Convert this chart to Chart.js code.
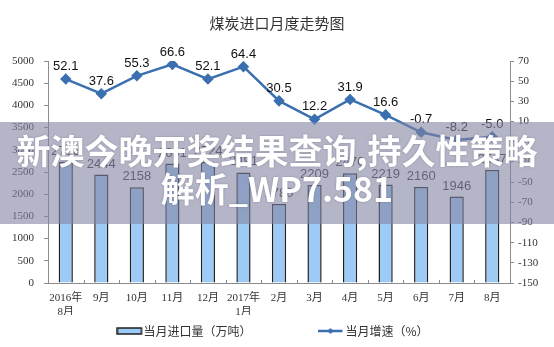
<!DOCTYPE html>
<html>
<head>
<meta charset="utf-8">
<script src="https://cdn.jsdelivr.net/npm/chart.js@4/dist/chart.umd.min.js"></script>
<style>
  html, body { margin: 0; padding: 0; background: #fff; }
  #wrap { position: relative; width: 554px; height: 347px; }
  #banner {
    position: absolute; left: 0; top: 122px; width: 554px; height: 102px;
    background: rgba(131, 131, 163, 0.6);
    color: #fff; font-family: "Noto Sans CJK SC", sans-serif; font-weight: 700;
    font-size: 34px; line-height: 38px; text-align: center;
    padding-top: 9px; box-sizing: border-box;
    text-shadow: 0 0 2px rgba(80, 80, 100, 0.5);
  }
</style>
</head>
<body>
<div id="wrap">
  <canvas id="chart" width="554" height="347"></canvas>
  <div id="banner">新澳今晚开奖结果查询,持久性策略<br>解析_WP7.581</div>
</div>
<script>
const monthLabels = [
  ['2016年', '8月'], '9月', '10月', '11月', '12月', ['2017年', '1月'],
  '2月', '3月', '4月', '5月', '6月', '7月', '8月',
];
const importVolume = [2733, 2444, 2158, 2691, 2724, 2491, 1780, 2209, 2470, 2219, 2160, 1946, 2547];
const growthRate = [52.1, 37.6, 55.3, 66.6, 52.1, 64.4, 30.5, 12.2, 31.9, 16.6, -0.7, -8.2, -5.0];

const tickFont = { family: '"Liberation Serif", "Noto Sans CJK SC", serif', size: 11, lineHeight: 1.3 };
const labelFont = '13px "Liberation Sans", Arial, sans-serif';
const lineColor = '#3a6fb0';
const barFill = '#9dcbf5';

// legend symbols: a framed bar swatch and a line with a diamond
const barSwatch = (() => {
  const c = document.createElement('canvas');
  c.width = 30; c.height = 8;
  const g = c.getContext('2d');
  g.fillStyle = barFill;
  g.fillRect(1, 1, 24, 6);
  g.strokeStyle = '#1f1f1f';
  g.lineWidth = 1.5;
  g.strokeRect(1, 1, 24, 6);
  return c;
})();

const lineSwatch = (() => {
  const c = document.createElement('canvas');
  c.width = 30; c.height = 8;
  const g = c.getContext('2d');
  g.strokeStyle = lineColor;
  g.lineWidth = 2.5;
  g.beginPath(); g.moveTo(0, 4); g.lineTo(24, 4); g.stroke();
  g.fillStyle = lineColor;
  g.beginPath(); g.moveTo(12, 1); g.lineTo(15, 4); g.lineTo(12, 7); g.lineTo(9, 4); g.closePath(); g.fill();
  return c;
})();

const valueLabels = {
  id: 'valueLabels',
  afterDatasetsDraw(chart) {
    const { ctx } = chart;
    ctx.save();
    ctx.font = labelFont;
    ctx.textAlign = 'center';
    ctx.textBaseline = 'bottom';
    chart.data.datasets.forEach((ds, di) => {
      const meta = chart.getDatasetMeta(di);
      meta.data.forEach((el, i) => {
        const v = ds.data[i];
        const text = ds.type === 'line' ? v.toFixed(1) : String(v);
        ctx.fillStyle = ds.type === 'line' ? '#111' : '#333';
        ctx.fillText(text, el.x, el.y - (ds.type === 'line' ? 6 : 4));
      });
    });
    ctx.restore();
  },
};

const innerTicks = {
  id: 'innerTicks',
  afterDraw(chart) {
    const { ctx } = chart;
    const x = chart.scales.x;
    ctx.save();
    ctx.strokeStyle = '#8c8c8c';
    ctx.lineWidth = 1;
    for (let i = 0; i <= monthLabels.length; i += 1) {
      const px = Math.round(x.getPixelForValue(i - 0.5)) + 0.5;
      ctx.beginPath();
      ctx.moveTo(px, x.top);
      ctx.lineTo(px, x.top - 3);
      ctx.stroke();
    }
    ctx.restore();
  },
};

new Chart(document.getElementById('chart'), {
  data: {
    labels: monthLabels,
    datasets: [
      {
        type: 'line',
        label: '当月增速（%）',
        data: growthRate,
        yAxisID: 'y1',
        borderColor: lineColor,
        backgroundColor: lineColor,
        borderWidth: 2.5,
        pointStyle: 'rectRot',
        pointRadius: 4,
        pointBackgroundColor: lineColor,
        pointBorderColor: lineColor,
        tension: 0,
        order: 0,
      },
      {
        type: 'bar',
        label: '当月进口量（万吨）',
        data: importVolume,
        yAxisID: 'y',
        backgroundColor: barFill,
        borderColor: '#1f1f1f',
        borderWidth: 1.5,
        barPercentage: 0.8,
        categoryPercentage: 0.5,
        order: 1,
      },
    ],
  },
  options: {
    responsive: false,
    animation: false,
    layout: { padding: { top: 0, bottom: 0 } },
    plugins: {
      title: {
        display: true,
        text: '煤炭进口月度走势图',
        color: '#333',
        font: { family: '"Noto Sans CJK SC", sans-serif', size: 15, weight: 'normal' },
        padding: { top: 14, bottom: 29 },
      },
      legend: {
        position: 'bottom',
        labels: {
          color: '#333',
          font: { family: '"Noto Sans CJK SC", sans-serif', size: 12 },
          usePointStyle: true,
          padding: 10,
          generateLabels: (chart) => [
            { text: chart.data.datasets[1].label + '\u3000\u3000\u3000\u3000\u3000\u3000', pointStyle: barSwatch, fontColor: '#333', datasetIndex: 1, lineWidth: 0 },
            { text: chart.data.datasets[0].label, pointStyle: lineSwatch, fontColor: '#333', datasetIndex: 0, lineWidth: 0 },
          ],
        },
      },
      tooltip: { enabled: false },
    },
    scales: {
      x: {
        afterFit: (scale) => { scale.height = 32; },
        grid: { display: false, drawTicks: false },
        border: { color: '#8c8c8c' },
        ticks: { color: '#333', font: tickFont, maxRotation: 0, autoSkip: false, padding: 8 },
      },
      y: {
        position: 'left',
        min: 0,
        max: 5000,
        afterFit: (scale) => { scale.width = 48; },
        grid: { drawOnChartArea: false, tickLength: 4, color: '#8c8c8c' },
        border: { color: '#8c8c8c' },
        ticks: { stepSize: 500, color: '#333', font: tickFont, padding: 10, callback: (v) => String(v) },
      },
      y1: {
        position: 'right',
        min: -150,
        max: 70,
        afterFit: (scale) => { scale.width = 44; },
        grid: { drawOnChartArea: false, tickLength: 4, color: '#8c8c8c' },
        border: { color: '#8c8c8c' },
        ticks: { stepSize: 20, color: '#333', font: tickFont, padding: 4, callback: (v) => String(v) },
      },
    },
  },
  plugins: [valueLabels, innerTicks],
});
</script>
</body>
</html>
